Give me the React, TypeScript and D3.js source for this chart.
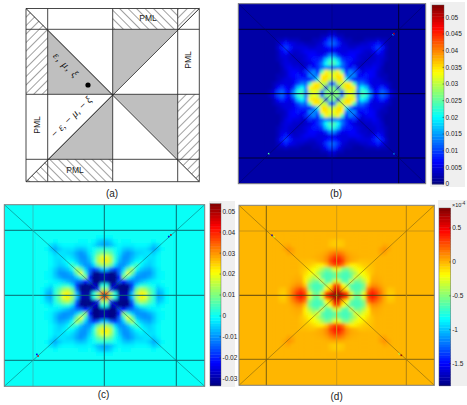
import * as d3 from 'd3'

// Field values are one quarter of each map, kept as a triangle (row, column up to row)
// because the maps mirror across the axes and the diagonals. 16 cells out from centre.
const fieldB = [
  [27],
  [27, 5],
  [12, 30, 30],
  [30, 35, 35, 22],
  [33, 35, 34, 14, 13],
  [30, 34, 24, 7, 14, 11],
  [13, 14, 12, 9, 6, 9, 5],
  [24, 20, 13, 9, 7, 5, 4, 3],
  [22, 17, 10, 8, 8, 6, 5, 4, 3],
  [14, 9, 6, 6, 7, 7, 5, 4, 4, 3],
  [6, 5, 5, 5, 6, 6, 6, 5, 4, 4, 6],
  [8, 7, 5, 5, 4, 4, 5, 5, 5, 5, 8, 10],
  [12, 9, 5, 4, 3, 3, 3, 4, 4, 5, 6, 8, 6],
  [10, 7, 4, 3, 3, 2, 2, 2, 3, 3, 3, 4, 3, 3],
  [5, 3, 3, 2, 2, 2, 2, 2, 2, 2, 2, 2, 2, 2, 2],
  [3, 2, 2, 2, 2, 2, 2, 2, 2, 2, 2, 2, 2, 2, 2, 2],
]
const fieldC = [
  [38],
  [14, -18],
  [2, -30, -26],
  [-30, -33, -33, -16],
  [-31, -33, -33, -22, 13],
  [-28, -33, -31, -14, 4, 20],
  [-6, -14, -18, -13, -5, 8, 15],
  [14, 8, -4, -10, -10, -6, 1, 5],
  [22, 15, 2, -7, -10, -9, -5, -1, 0],
  [20, 13, 3, -5, -10, -10, -7, -4, -2, -3],
  [10, 7, 1, -3, -8, -10, -8, -5, -4, -3, -3],
  [3, 2, 0, -2, -5, -6, -5, -3, -3, -3, -5, -8],
  [-8, -6, -3, -1, -2, -2, -2, -1, -1, -1, -2, -5, -3],
  [-6, -4, -1, 0, -1, -1, 0, 0, 0, 0, 0, -1, 0, 0],
  [-1, -1, 0, 0, 0, 0, 0, 0, 0, 0, 0, 0, 0, 0, 0],
  [0, 0, 0, 0, 0, 0, 0, 0, 0, 0, 0, 0, 0, 0, 0, 0],
]
const fieldD = [
  [7],
  [5.5, 0],
  [3, -2, -4],
  [-3, -6, -6.5, -3],
  [-6, -6.8, -6.8, -6, -2.5],
  [-5.5, -6.5, -6.8, -5.5, -4, -2],
  [-2.5, -5, -5.5, -4, -2.5, -2, -1.2],
  [3, 1.5, -0.5, -1.5, -1.5, -1, -0.6, -0.5],
  [4.5, 3, 1, 0.3, 0, -0.3, -0.3, -0.2, -0.2],
  [3.5, 2.2, 1, 0.4, 0.2, 0.1, 0, 0, 0, 0],
  [1.8, 1.2, 0.5, 0.2, 0.1, 0, 0, 0, 0, 0, 0.4],
  [0.3, 0.2, 0.1, 0, 0, 0, 0, 0, 0, 0, 0.5, 1],
  [-0.6, -0.4, 0, 0, 0, 0, 0, 0, 0, 0, 0, 0.4, 0.2],
  [-0.5, -0.3, 0, 0, 0, 0, 0, 0, 0, 0, 0, 0, 0, 0],
  [0, 0, 0, 0, 0, 0, 0, 0, 0, 0, 0, 0, 0, 0, 0],
  [0, 0, 0, 0, 0, 0, 0, 0, 0, 0, 0, 0, 0, 0, 0, 0],
]

// small bright spots near the PML corners: [column, row, value], in cells from centre
const spotsB = [[15.5, -15, 48], [15.2, -14.7, 14], [-15.8, 15, 24], [15.5, 15, 14]]
const spotsC = [[15.5, -15, 46], [15, -14.6, -22], [-15.5, 15, 42], [-15.8, 14.6, -24]]
const spotsD = [[-15.5, -15, -16], [-15, -14.6, -3], [15.5, 15, 7], [15, 14.6, -4]]

const ticksB = [0, 5, 10, 15, 20, 25, 30, 35, 40, 45, 50]
const tickLabelsB = ['0', '0.005', '0.01', '0.015', '0.02', '0.025', '0.03', '0.035', '0.04', '0.045', '0.05']
const ticksC = [-30, -20, -10, 0, 10, 20, 30, 40, 50]
const tickLabelsC = ['-0.03', '-0.02', '-0.01', '0', '0.01', '0.02', '0.03', '0.04', '0.05']
const ticksD = [-15, -10, -5, 0, 5]
const tickLabelsD = ['-1.5', '-1', '-0.5', '0', '0.5']

const jet = d3
  .scaleLinear<string>()
  .domain([0, 0.125, 0.375, 0.625, 0.875, 1])
  .range(['#000080', '#0000ff', '#00ffff', '#ffff00', '#ff0000', '#800000'])
  .interpolate(d3.interpolateRgb)

const cellIds = d3.range(-16, 16)
const distIndex = (k: number) => (k < 0 ? -k - 1 : k)

function fieldAt(field: number[][], i: number, j: number) {
  const a = distIndex(i)
  const b = distIndex(j)
  return a >= b ? field[a][b] : field[b][a]
}

function HeatPanel({ id, field, spots, domain, box, bar, ticks, tickLabels, lines, caption, exponent }: any) {
  const colorT = d3.scaleLinear().domain(domain).range([0, 1])
  const color = (v: number) => jet(colorT(v))
  const cx = (box.x0 + box.x1) / 2
  // cells: frame half-width is 23.4 cells across, 22.5 cells down
  const x = d3.scaleLinear().domain([-23.4, 23.4]).range([box.x0, box.x1])
  const y = d3.scaleLinear().domain([-22.5, 22.5]).range([box.y0, box.y1])
  const barY = d3.scaleLinear().domain(domain).range([bar.y1, bar.y0])
  const steps = d3.range(64).map((s) => domain[0] + ((s + 0.5) / 64) * (domain[1] - domain[0]))
  const stepH = (bar.y1 - bar.y0) / 64
  const clipId = `clip-${id}`
  return (
    <g>
      <rect x={bar.bgX0} y={bar.bgY0} width={bar.bgX1 - bar.bgX0} height={bar.bgY1 - bar.bgY0} fill="#efefef" />
      <defs>
        <clipPath id={clipId}>
          <rect x={box.x0} y={box.y0} width={box.x1 - box.x0} height={box.y1 - box.y0} />
        </clipPath>
      </defs>
      <rect x={box.x0} y={box.y0} width={box.x1 - box.x0} height={box.y1 - box.y0} fill={color(field[15][15])} />
      <g clipPath={`url(#${clipId})`}>
        <g filter="url(#soften)">
          {cellIds.flatMap((i) =>
            cellIds.map((j) => (
              <rect
                key={`${i}-${j}`}
                x={x(j)}
                y={y(i)}
                width={x(j + 1) - x(j) + 0.3}
                height={y(i + 1) - y(i) + 0.3}
                fill={color(fieldAt(field, i, j))}
              />
            )),
          )}
        </g>
        {spots.map((s: number[], k: number) => (
          <rect key={k} x={x(s[0]) - 0.8} y={y(s[1]) - 0.8} width={1.6} height={1.6} fill={color(s[2])} />
        ))}
      </g>
      {lines.map((l: any, k: number) => (
        <line
          key={k}
          x1={l.dir === 'v' ? l.at : box.x0}
          x2={l.dir === 'v' ? l.at : box.x1}
          y1={l.dir === 'h' ? l.at : box.y0}
          y2={l.dir === 'h' ? l.at : box.y1}
          stroke={l.color}
          strokeWidth={l.w}
        />
      ))}
      <line x1={box.x0} y1={box.y0} x2={box.x1} y2={box.y1} stroke={box.diag} strokeWidth={0.5} />
      <line x1={box.x0} y1={box.y1} x2={box.x1} y2={box.y0} stroke={box.diag} strokeWidth={0.5} />
      <rect x={box.x0} y={box.y0} width={box.x1 - box.x0} height={box.y1 - box.y0} fill="none" stroke="#7f7f7f" strokeWidth={1} />
      {steps.map((v, k) => (
        <rect key={k} x={bar.x0} y={barY(v) - stepH / 2} width={bar.x1 - bar.x0} height={stepH + 0.4} fill={color(v)} />
      ))}
      <rect x={bar.x0} y={bar.y0} width={bar.x1 - bar.x0} height={bar.y1 - bar.y0} fill="none" stroke="#555" strokeWidth={0.4} />
      {ticks.map((t: number, k: number) => (
        <g key={t}>
          <line x1={bar.x1 - 1.5} x2={bar.x1} y1={barY(t)} y2={barY(t)} stroke="#222" strokeWidth={0.5} />
          <text x={bar.x1 + 1.5} y={barY(t) + 2.4} fontSize={6.5} fontFamily="Liberation Sans, Arial" fill="#222">
            {tickLabels[k]}
          </text>
        </g>
      ))}
      {exponent && (
        <text x={bar.x0 + 13} y={bar.y0 - 1.5} fontSize={5.5} fontFamily="Liberation Sans, Arial" fill="#222">
          ×10
          <tspan dy={-2} fontSize={4.5}>
            -4
          </tspan>
        </text>
      )}
      <text x={cx + caption.dx} y={caption.y} textAnchor="middle" fontSize={10} fontFamily="Liberation Sans, Arial" fill="#222">
        {caption.text}
      </text>
    </g>
  )
}

function Schematic() {
  const xs = d3.scaleLinear().domain([0, 4]).range([47.7, 177.7])
  const ys = d3.scaleLinear().domain([0, 4]).range([29.3, 159.3])
  const X0 = 26
  const X1 = 199.3
  const Y0 = 8.5
  const Y1 = 181.7
  const x1 = xs(0), xm = xs(2), x2 = xs(4)
  const y1 = ys(0), ym = ys(2), y2 = ys(4)
  const tris = [
    [[x1, y1], [xm, ym], [x1, ym]],
    [[xm, y1], [x2, y1], [xm, ym]],
    [[xm, ym], [x2, ym], [x2, y2]],
    [[xm, ym], [xm, y2], [x1, y2]],
  ]
  const hatchAreas = [
    [[X0, Y0], [x1, y1], [x1, ym], [X0, ym]],
    [[xm, Y0], [x2, Y0], [x2, y1], [xm, y1]],
    [[x2, Y0], [X1, Y0], [x2, y1]],
    [[x2, ym], [X1, ym], [X1, Y1], [x2, y2]],
    [[x1, y2], [xm, y2], [xm, Y1], [x1, Y1]],
    [[X0, Y1], [x1, y2], [x1, Y1]],
  ]
  const hatchDirs = ['up', 'down', 'up', 'up', 'down', 'down']
  const poly = (p: number[][]) => d3.line()(p as [number, number][]) + 'Z'
  const gridV = [X0, x1, xm, x2, X1]
  const gridH = [Y0, y1, ym, y2, Y1]
  return (
    <g>
      <defs>
        <pattern id="hatch-up" width={6} height={6} patternUnits="userSpaceOnUse" patternTransform="rotate(45)">
          <line x1={0} y1={0} x2={0} y2={6} stroke="#444" strokeWidth={1} />
        </pattern>
        <pattern id="hatch-down" width={6} height={6} patternUnits="userSpaceOnUse" patternTransform="rotate(-45)">
          <line x1={0} y1={0} x2={0} y2={6} stroke="#444" strokeWidth={1} />
        </pattern>
      </defs>
      {tris.map((t, k) => (
        <path key={k} d={poly(t)} fill="#bfbfbf" />
      ))}
      {hatchAreas.map((h, k) => (
        <path key={k} d={poly(h)} fill={`url(#hatch-${hatchDirs[k]})`} />
      ))}
      {gridV.map((v) => (
        <line key={v} x1={v} x2={v} y1={Y0} y2={Y1} stroke="#333" strokeWidth={0.9} />
      ))}
      {gridH.map((v) => (
        <line key={v} y1={v} y2={v} x1={X0} x2={X1} stroke="#333" strokeWidth={0.9} />
      ))}
      <line x1={X0} y1={Y0} x2={X1} y2={Y1} stroke="#222" strokeWidth={1} />
      <line x1={X0} y1={Y1} x2={X1} y2={Y0} stroke="#222" strokeWidth={1} />
      <circle cx={88} cy={85} r={2.6} fill="#000" />
      <g fontFamily="Liberation Sans, Arial" fill="#222" fontSize={8.5}>
        <text x={148} y={21} textAnchor="middle">PML</text>
        <text x={75} y={173} textAnchor="middle">PML</text>
        <text transform="translate(191,60) rotate(-90)" textAnchor="middle">PML</text>
        <text transform="translate(40,125) rotate(-90)" textAnchor="middle">PML</text>
        <text x={112} y={197} textAnchor="middle" fontSize={10}>(a)</text>
      </g>
      <g fontFamily="Liberation Serif, serif" fontStyle="italic" fill="#111" fontSize={10.5}>
        <text transform="translate(63.5,67.5) rotate(45)" textAnchor="middle" letterSpacing={1}>ε, μ, ξ</text>
        <text transform="translate(73.5,119.5) rotate(-45)" textAnchor="middle">− ε, − μ, − ξ</text>
      </g>
    </g>
  )
}

export default function App() {
  return (
    <svg width={467} height={405} style={{ position: 'absolute', left: 0, top: 0, background: '#fff' }}>
      <defs>
        <filter id="soften" x="-5%" y="-5%" width="110%" height="110%">
          <feGaussianBlur stdDeviation={1.8} />
        </filter>
      </defs>
      <Schematic />
      <HeatPanel
        id="b"
        field={fieldB}
        spots={spotsB}
        domain={[0, 53.7]}
        box={{ x0: 238.3, x1: 425.7, y0: 3.7, y1: 183.7, diag: '#00005a' }}
        bar={{ x0: 432, x1: 444, y0: 5, y1: 184, bgX0: 430, bgX1: 465, bgY0: 2, bgY1: 187 }}
        ticks={ticksB}
        tickLabels={tickLabelsB}
        lines={[
          { dir: 'h', at: 29.3, color: '#000030', w: 1 },
          { dir: 'h', at: 93.7, color: '#000030', w: 1 },
          { dir: 'h', at: 158, color: '#000030', w: 1 },
          { dir: 'v', at: 332, color: '#000080', w: 0.7 },
          { dir: 'v', at: 398.7, color: '#000030', w: 1 },
        ]}
        caption={{ text: '(b)', dx: 4, y: 197 }}
      />
      <HeatPanel
        id="c"
        field={fieldC}
        spots={spotsC}
        domain={[-33.3, 53.6]}
        box={{ x0: 4.3, x1: 204.7, y0: 204.7, y1: 386.3, diag: '#0a5a60' }}
        bar={{ x0: 210, x1: 221, y0: 203.7, y1: 385.7, bgX0: 209, bgX1: 235, bgY0: 201, bgY1: 387 }}
        ticks={ticksC}
        tickLabels={tickLabelsC}
        lines={[
          { dir: 'h', at: 230.3, color: '#0a6a70', w: 1 },
          { dir: 'h', at: 295.3, color: '#0a6a70', w: 1 },
          { dir: 'h', at: 360.3, color: '#0a6a70', w: 1 },
          { dir: 'v', at: 33, color: '#2ac4c4', w: 1 },
          { dir: 'v', at: 104.3, color: '#0a6a70', w: 1 },
          { dir: 'v', at: 176.3, color: '#0a6a70', w: 1 },
        ]}
        caption={{ text: '(c)', dx: -1, y: 398 }}
      />
      <HeatPanel
        id="d"
        field={fieldD}
        spots={spotsD}
        domain={[-18.26, 7.96]}
        box={{ x0: 239, x1: 434.3, y0: 205.3, y1: 385.3, diag: '#6a5510' }}
        bar={{ x0: 439, x1: 450.7, y0: 208, y1: 385.7, bgX0: 438, bgX1: 467, bgY0: 200, bgY1: 386 }}
        ticks={ticksD}
        tickLabels={tickLabelsD}
        exponent
        lines={[
          { dir: 'h', at: 231, color: '#cc9410', w: 1 },
          { dir: 'h', at: 295.3, color: '#5a4410', w: 1 },
          { dir: 'h', at: 359.3, color: '#84660f', w: 1 },
          { dir: 'v', at: 266.3, color: '#7a6010', w: 1 },
          { dir: 'v', at: 336.7, color: '#d09a10', w: 1 },
          { dir: 'v', at: 406.3, color: '#b08010', w: 1 },
        ]}
        caption={{ text: '(d)', dx: 0, y: 400 }}
      />
    </svg>
  )
}
